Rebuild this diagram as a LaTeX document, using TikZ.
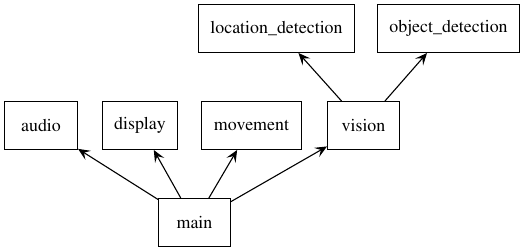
\documentclass[tikz,border=0pt]{standalone}
\usepackage[T1]{fontenc}
\usepackage{mathptmx}
\usepackage{tikz}
\usetikzlibrary{arrows.meta, positioning}

\begin{document}
\begin{tikzpicture}[
    x=1bp, y=1bp,
    node distance=48bp and 24bp,
    module/.style={rectangle, draw=black, line width=1bp, minimum height=48bp, minimum width=72bp, inner xsep=9bp, font=\fontsize{17.9bp}{20bp}\selectfont},
    line/.style={draw, -{Stealth[length=12bp, width=10.5bp, inset=5bp]}, line width=1.1bp, color=black}
]
    \useasboundingbox (0,0) rectangle (521,251);

    % Package row
    \node (audio) [module, minimum width=73bp] at (41,125.5) {audio};
    \node (display) [module, minimum width=75bp, right=24bp of audio] {display};
    \node (movement) [module, minimum width=100bp, right=23bp of display] {movement};
    \node (vision) [module, right=25bp of movement] {vision};

    % Entry point
    \node (main) [module, below=48bp of display, xshift=54.5bp] {main};

    % Vision submodules
    \node (location) [module, minimum width=156bp, above=48bp of vision, xshift=-87bp] {location\_detection};
    \node (object) [module, minimum width=142bp, above=48bp of vision, xshift=85bp] {object\_detection};

    % Imports
    \draw [line] (main) -- (audio);
    \draw [line] (main) -- (display);
    \draw [line] (main) -- (movement);
    \draw [line] (main) -- (vision);

    \draw [line] (vision) -- (location);
    \draw [line] (vision) -- (object);

\end{tikzpicture}
\end{document}
